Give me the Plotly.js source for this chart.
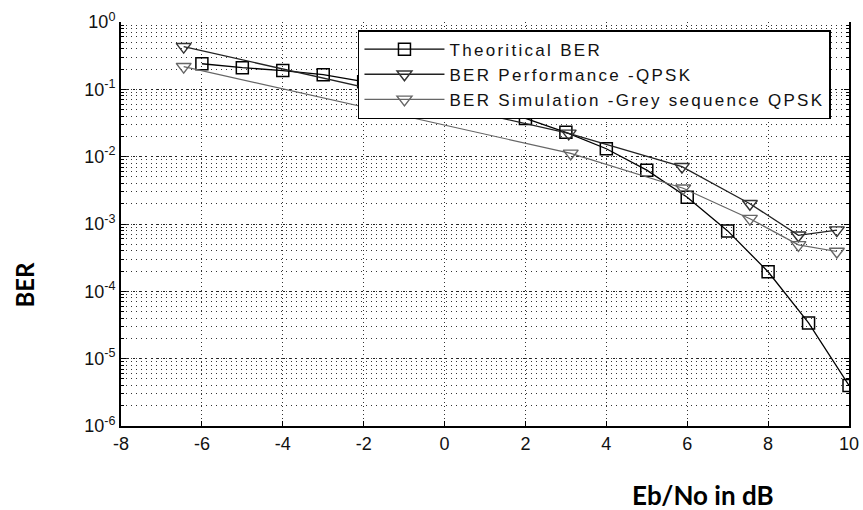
<!DOCTYPE html>
<html>
<head>
<meta charset="utf-8">
<script src="https://cdn.plot.ly/plotly-3.0.1.min.js"></script>
<style>
html,body{margin:0;padding:0;background:#fff;}
#chart{width:863px;height:510px;}
.legendtext{letter-spacing:2.3px;}
</style>
</head>
<body>
<div id="chart"></div>
<script>
// Theoretical BER (squares)
const theoX = [-6, -5, -4, -3, -2, -1, 0, 1, 2, 3, 4, 5, 6, 7, 8, 9, 10];
const theoY = [0.24, 0.21, 0.19, 0.165, 0.13, 0.104, 0.079, 0.057, 0.037, 0.023, 0.0131, 0.0063, 0.0025, 0.00079, 0.000195, 0.000034, 0.000004];
// BER Performance -QPSK (dark triangles)
const perfX = [-6.45, 3.07, 5.87, 7.55, 8.75, 9.7];
const perfY = [0.43, 0.0222, 0.0071, 0.0020, 0.00068, 0.00081];
// BER Simulation -Grey sequence QPSK (grey triangles)
const simX = [-6.45, 3.12, 5.9, 7.55, 8.75, 9.7];
const simY = [0.217, 0.0112, 0.0034, 0.0012, 0.00049, 0.00039];

const seriesNames = ['Theoritical BER', 'BER Performance -QPSK', 'BER Simulation -Grey sequence QPSK'];
const xTickVals = [-8, -6, -4, -2, 0, 2, 4, 6, 8, 10];
const xTickText = ['-8', '-6', '-4', '-2', '0', '2', '4', '6', '8', '10'];
const yTickVals = [1, 0.1, 0.01, 0.001, 0.0001, 0.00001, 0.000001];
const yTickText = ['10<sup>0</sup>', '10<sup>-1</sup>', '10<sup>-2</sup>', '10<sup>-3</sup>', '10<sup>-4</sup>', '10<sup>-5</sup>', '10<sup>-6</sup>'];
const xTitle = 'Eb/No in dB';
const yTitle = 'BER';

const traces = [
  {x: theoX, y: theoY, name: seriesNames[0], type: 'scatter', mode: 'lines+markers',
   line: {color: '#000', width: 1.3},
   marker: {symbol: 'square-open', size: 12, color: '#000', line: {width: 1.5, color: '#000'}}},
  {x: perfX, y: perfY, name: seriesNames[1], type: 'scatter', mode: 'lines+markers',
   line: {color: '#222', width: 1.3},
   marker: {symbol: 'triangle-down-open', size: 13, color: '#333', line: {width: 1.4, color: '#333'}}},
  {x: simX, y: simY, name: seriesNames[2], type: 'scatter', mode: 'lines+markers',
   line: {color: '#666', width: 1.2},
   marker: {symbol: 'triangle-down-open', size: 13, color: '#666', line: {width: 1.4, color: '#666'}}}
];

const tickFont = {family: 'Liberation Sans', size: 18, color: '#111'};

const layout = {
  width: 863, height: 510,
  margin: {l: 121, r: 14, t: 22, b: 84},
  paper_bgcolor: '#fff', plot_bgcolor: '#fff',
  showlegend: true,
  legend: {
    x: 0.3255, y: 0.98, xanchor: 'left', yanchor: 'top',
    bgcolor: '#fff', bordercolor: '#000', borderwidth: 1.5,
    font: {family: 'Liberation Sans', size: 17, color: '#111'},
    itemwidth: 80, tracegroupgap: 0
  },
  xaxis: {
    type: 'linear', range: [-8, 10],
    tickvals: xTickVals, ticktext: xTickText,
    tickfont: tickFont,
    ticks: 'inside', ticklen: 5, tickcolor: '#000',
    showline: true, linecolor: '#000', linewidth: 2, mirror: false,
    showgrid: true, gridcolor: '#333', griddash: '1px,3px', gridwidth: 1,
    zeroline: false
  },
  yaxis: {
    type: 'log', range: [-6, 0],
    tickvals: yTickVals, ticktext: yTickText,
    tickfont: tickFont,
    ticks: 'inside', ticklen: 5, tickcolor: '#000',
    showline: true, linecolor: '#000', linewidth: 2, mirror: 'ticks',
    showgrid: true, gridcolor: '#222', griddash: '2px,4px', gridwidth: 1,
    zeroline: false,
    minor: {dtick: 'D1', showgrid: true, gridcolor: '#333', griddash: '1px,4px', gridwidth: 1, ticks: 'inside', ticklen: 3, tickcolor: '#000'}
  },
  annotations: [
    {text: '<b>' + yTitle + '</b>', xref: 'paper', yref: 'paper', x: -0.132, y: 0.35, textangle: -90,
     xanchor: 'center', yanchor: 'middle',
     showarrow: false, font: {family: 'Lato', size: 24, color: '#000'}},
    {text: '<b>' + xTitle + '</b>', xref: 'paper', yref: 'paper', x: 0.80, y: -0.171,
     xanchor: 'center', yanchor: 'middle',
     showarrow: false, font: {family: 'Lato', size: 26, color: '#000'}}
  ]
};

Plotly.newPlot('chart', traces, layout, {displayModeBar: false, staticPlot: true});
</script>
</body>
</html>
